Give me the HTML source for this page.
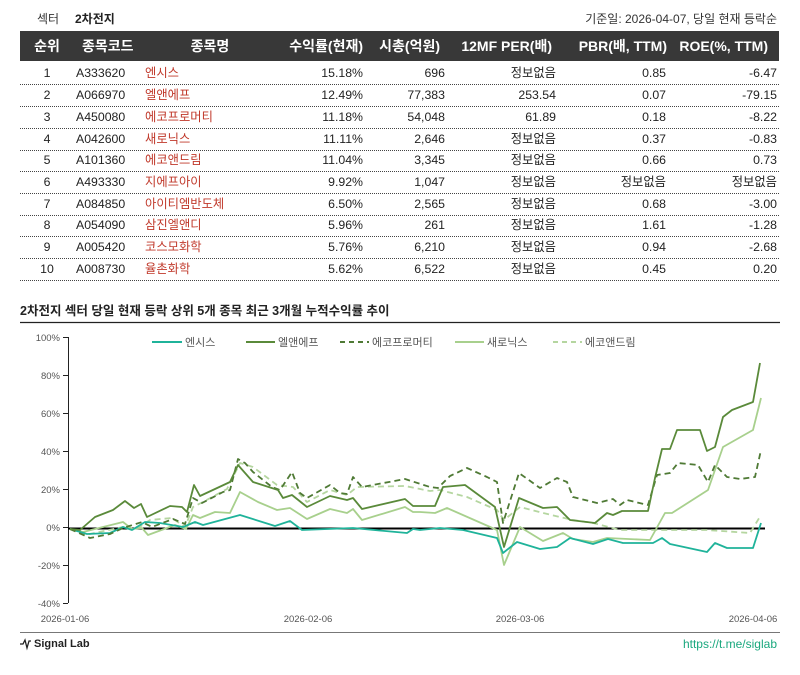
<!DOCTYPE html>
<html><head><meta charset="utf-8"><style>
body{margin:0;background:#fff;}
svg{display:block;font-family:"Liberation Sans","Noto Sans CJK KR","NanumGothic",sans-serif;}
</style></head><body>
<svg width="800" height="675" viewBox="0 0 800 675" xmlns="http://www.w3.org/2000/svg">
<rect width="800" height="675" fill="#fff"/>
<text x="37" y="23" font-size="12" fill="#333">섹터</text>
<text x="75" y="23" font-size="12" font-weight="bold" fill="#222">2차전지</text>
<text x="777" y="23" font-size="12" fill="#333" text-anchor="end">기준일: 2026-04-07, 당일 현재 등락순</text>
<rect x="20" y="31" width="759" height="30" fill="#383838"/>
<g font-size="14" font-weight="bold" fill="#fff">
<text x="47" y="51" text-anchor="middle">순위</text>
<text x="82" y="51">종목코드</text>
<text x="210" y="51" text-anchor="middle">종목명</text>
<text x="363" y="51" text-anchor="end">수익률(현재)</text>
<text x="440" y="51" text-anchor="end">시총(억원)</text>
<text x="552" y="51" text-anchor="end">12MF PER(배)</text>
<text x="667" y="51" text-anchor="end">PBR(배, TTM)</text>
<text x="768" y="51" text-anchor="end">ROE(%, TTM)</text>
</g>
<g font-size="12.3" fill="#222">
<g transform="translate(0,77)"><text x="47" text-anchor="middle">1</text><text x="76">A333620</text><text x="145" fill="#c0392b">엔시스</text><text x="363" text-anchor="end">15.18%</text><text x="445" text-anchor="end">696</text><text x="556" text-anchor="end">정보없음</text><text x="666" text-anchor="end">0.85</text><text x="777" text-anchor="end">-6.47</text></g>
<g transform="translate(0,99)"><text x="47" text-anchor="middle">2</text><text x="76">A066970</text><text x="145" fill="#c0392b">엘앤에프</text><text x="363" text-anchor="end">12.49%</text><text x="445" text-anchor="end">77,383</text><text x="556" text-anchor="end">253.54</text><text x="666" text-anchor="end">0.07</text><text x="777" text-anchor="end">-79.15</text></g>
<g transform="translate(0,121)"><text x="47" text-anchor="middle">3</text><text x="76">A450080</text><text x="145" fill="#c0392b">에코프로머티</text><text x="363" text-anchor="end">11.18%</text><text x="445" text-anchor="end">54,048</text><text x="556" text-anchor="end">61.89</text><text x="666" text-anchor="end">0.18</text><text x="777" text-anchor="end">-8.22</text></g>
<g transform="translate(0,143)"><text x="47" text-anchor="middle">4</text><text x="76">A042600</text><text x="145" fill="#c0392b">새로닉스</text><text x="363" text-anchor="end">11.11%</text><text x="445" text-anchor="end">2,646</text><text x="556" text-anchor="end">정보없음</text><text x="666" text-anchor="end">0.37</text><text x="777" text-anchor="end">-0.83</text></g>
<g transform="translate(0,164)"><text x="47" text-anchor="middle">5</text><text x="76">A101360</text><text x="145" fill="#c0392b">에코앤드림</text><text x="363" text-anchor="end">11.04%</text><text x="445" text-anchor="end">3,345</text><text x="556" text-anchor="end">정보없음</text><text x="666" text-anchor="end">0.66</text><text x="777" text-anchor="end">0.73</text></g>
<g transform="translate(0,186)"><text x="47" text-anchor="middle">6</text><text x="76">A493330</text><text x="145" fill="#c0392b">지에프아이</text><text x="363" text-anchor="end">9.92%</text><text x="445" text-anchor="end">1,047</text><text x="556" text-anchor="end">정보없음</text><text x="666" text-anchor="end">정보없음</text><text x="777" text-anchor="end">정보없음</text></g>
<g transform="translate(0,208)"><text x="47" text-anchor="middle">7</text><text x="76">A084850</text><text x="145" fill="#c0392b">아이티엠반도체</text><text x="363" text-anchor="end">6.50%</text><text x="445" text-anchor="end">2,565</text><text x="556" text-anchor="end">정보없음</text><text x="666" text-anchor="end">0.68</text><text x="777" text-anchor="end">-3.00</text></g>
<g transform="translate(0,229)"><text x="47" text-anchor="middle">8</text><text x="76">A054090</text><text x="145" fill="#c0392b">삼진엘앤디</text><text x="363" text-anchor="end">5.96%</text><text x="445" text-anchor="end">261</text><text x="556" text-anchor="end">정보없음</text><text x="666" text-anchor="end">1.61</text><text x="777" text-anchor="end">-1.28</text></g>
<g transform="translate(0,251)"><text x="47" text-anchor="middle">9</text><text x="76">A005420</text><text x="145" fill="#c0392b">코스모화학</text><text x="363" text-anchor="end">5.76%</text><text x="445" text-anchor="end">6,210</text><text x="556" text-anchor="end">정보없음</text><text x="666" text-anchor="end">0.94</text><text x="777" text-anchor="end">-2.68</text></g>
<g transform="translate(0,273)"><text x="47" text-anchor="middle">10</text><text x="76">A008730</text><text x="145" fill="#c0392b">율촌화학</text><text x="363" text-anchor="end">5.62%</text><text x="445" text-anchor="end">6,522</text><text x="556" text-anchor="end">정보없음</text><text x="666" text-anchor="end">0.45</text><text x="777" text-anchor="end">0.20</text></g>
</g>
<g stroke="#444" stroke-width="1" stroke-dasharray="1,1">
<line x1="20" y1="84.5" x2="779" y2="84.5"/><line x1="20" y1="106.5" x2="779" y2="106.5"/><line x1="20" y1="128.5" x2="779" y2="128.5"/><line x1="20" y1="150.5" x2="779" y2="150.5"/><line x1="20" y1="171.5" x2="779" y2="171.5"/><line x1="20" y1="193.5" x2="779" y2="193.5"/><line x1="20" y1="215.5" x2="779" y2="215.5"/><line x1="20" y1="236.5" x2="779" y2="236.5"/><line x1="20" y1="258.5" x2="779" y2="258.5"/><line x1="20" y1="280.5" x2="779" y2="280.5"/>
</g>
<text x="20" y="315" font-size="12.5" font-weight="bold" fill="#222">2차전지 섹터 당일 현재 등락 상위 5개 종목 최근 3개월 누적수익률 추이</text>
<line x1="20" y1="322.5" x2="780" y2="322.5" stroke="#222" stroke-width="1.2"/>
<g stroke="#222" stroke-width="1">
<line x1="68.5" y1="337" x2="68.5" y2="603"/>
<line x1="63" y1="337.5" x2="68" y2="337.5"/><line x1="63" y1="375.5" x2="68" y2="375.5"/><line x1="63" y1="413.5" x2="68" y2="413.5"/><line x1="63" y1="451.5" x2="68" y2="451.5"/><line x1="63" y1="489.5" x2="68" y2="489.5"/><line x1="63" y1="527.5" x2="68" y2="527.5"/><line x1="63" y1="565.5" x2="68" y2="565.5"/><line x1="63" y1="603.5" x2="68" y2="603.5"/>
</g>
<g font-size="9.5" fill="#555" text-anchor="end">
<text x="60" y="341">100%</text><text x="60" y="379">80%</text><text x="60" y="417">60%</text><text x="60" y="455">40%</text><text x="60" y="493">20%</text><text x="60" y="531">0%</text><text x="60" y="569">-20%</text><text x="60" y="607">-40%</text>
</g>
<g font-size="9.5" fill="#555" text-anchor="middle">
<text x="65" y="622">2026-01-06</text><text x="308" y="622">2026-02-06</text><text x="520" y="622">2026-03-06</text><text x="753" y="622">2026-04-06</text>
</g>
<g font-size="11" fill="#555">
<line x1="152" y1="342" x2="182" y2="342" stroke="#1fb39a" stroke-width="2"/><text x="185" y="346">엔시스</text>
<line x1="246" y1="342" x2="275" y2="342" stroke="#5a8a3a" stroke-width="2"/><text x="278" y="346">엘앤에프</text>
<line x1="340" y1="342" x2="369" y2="342" stroke="#4f7a35" stroke-width="2" stroke-dasharray="5,4"/><text x="372" y="346">에코프로머티</text>
<line x1="455" y1="342" x2="484" y2="342" stroke="#a8d08d" stroke-width="2"/><text x="487" y="346">새로닉스</text>
<line x1="553" y1="342" x2="582" y2="342" stroke="#b5d6a0" stroke-width="2" stroke-dasharray="5,4"/><text x="585" y="346">에코앤드림</text>
</g>
<line x1="68" y1="528.5" x2="765" y2="528.5" stroke="#000" stroke-width="2"/>
<g fill="none" stroke-width="1.8" stroke-linejoin="round">
<polyline stroke="#b5d6a0" stroke-dasharray="6,4" points="70,529 85,535 123,527 135,530 150,520 172,518 185,527 193,507 203,502 227,489 240,463 253,467 277,485 293,487 307,502 330,490 347,495 357,487 405,486 430,491 440,490 467,497 497,510 504,520 520,507 543,513 560,517 573,520 593,523 620,530 653,530 707,530 750,533 761,515"/>
<polyline stroke="#a8d08d" points="70,529 83,532 123,522 132,529 142,528 148,535 175,525 186,529 193,515 200,518 215,512 230,513 240,492 258,502 277,510 290,508 307,519 330,509 347,513 353,509 362,520 405,507 413,512 420,512 435,513 447,508 497,530 504,565 520,527 543,541 563,533 573,539 593,542 607,538 650,540 665,513 672,513 708,490 723,447 753,430 761,398"/>
<polyline stroke="#1fb39a" points="70,529 87,534 110,533 123,527 132,530 145,522 160,523 183,527 195,522 203,525 240,515 275,526 290,521 302,530 353,528 407,533 413,529 420,530 440,528 463,530 497,538 503,553 517,542 540,549 557,547 570,538 593,544 608,539 623,543 653,543 662,538 670,544 707,552 715,543 727,548 753,548 761,523"/>
<polyline stroke="#4f7a35" stroke-dasharray="6,4" points="70,529 90,538 110,534 123,528 142,522 152,527 173,519 185,524 193,498 202,503 223,492 230,490 238,459 245,463 253,472 272,487 280,490 292,472 300,493 307,498 330,485 340,493 347,494 353,477 362,487 405,479 430,487 438,488 450,476 467,468 487,477 497,482 503,523 519,473 540,488 557,478 567,482 573,497 597,503 613,499 620,505 627,500 648,505 657,475 670,473 678,463 698,465 708,482 715,465 727,477 740,479 755,477 761,450"/>
<polyline stroke="#5a8a3a" points="70,529 80,530 95,517 113,510 125,501 134,508 141,504 147,517 170,506 182,507 187,512 194,485 200,496 230,482 238,465 253,482 278,490 283,498 292,495 307,507 330,496 347,500 353,498 362,509 405,499 413,506 420,506 435,506 443,487 465,485 495,507 504,547 519,498 543,508 557,507 570,520 595,523 607,513 613,515 622,511 648,511 655,478 662,449 670,449 677,430 700,430 707,451 715,447 723,417 732,410 753,402 760,363"/>
</g>
<line x1="20" y1="632.5" x2="780" y2="632.5" stroke="#777" stroke-width="1"/>
<polyline points="20,644 23,644 25,640 27,648 29,641 31,641" fill="none" stroke="#222" stroke-width="1.3"/>
<text x="34" y="647" font-size="11" font-weight="bold" fill="#222">Signal Lab</text>
<text x="777" y="648" font-size="12" fill="#1aa87e" text-anchor="end">https://t.me/siglab</text>
</svg>
</body></html>
